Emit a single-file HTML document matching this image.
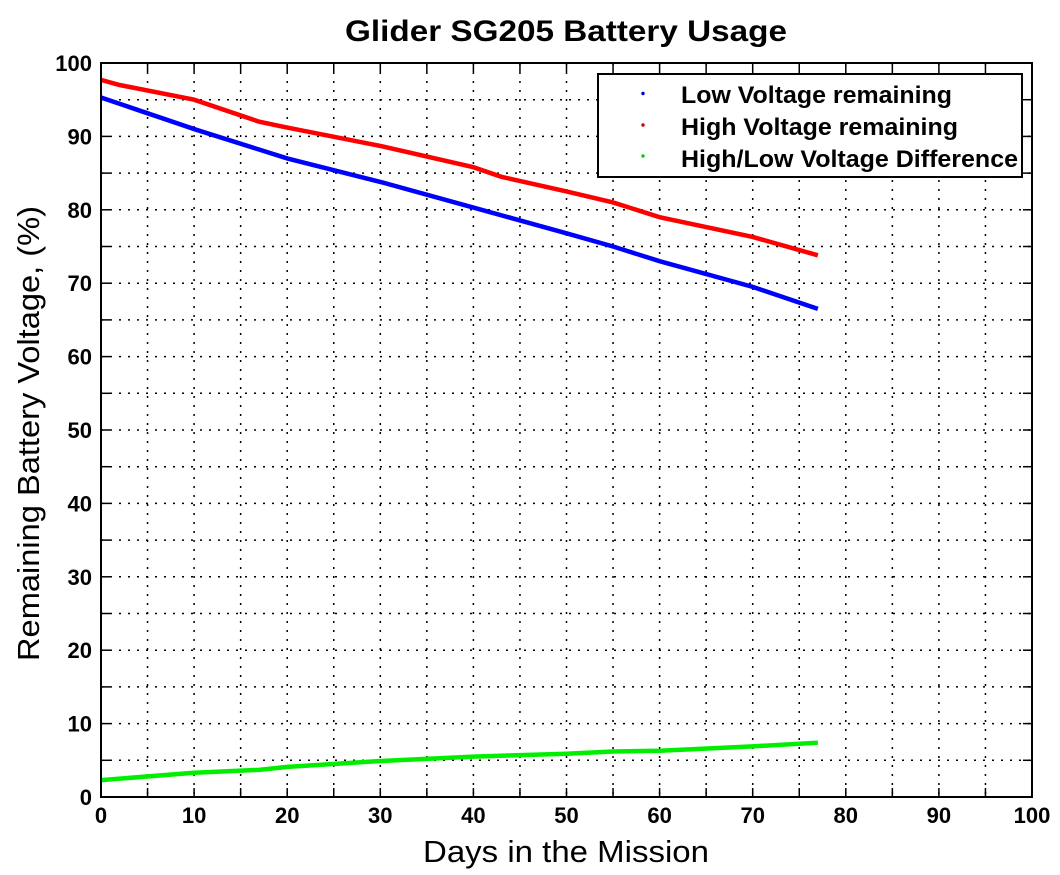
<!DOCTYPE html>
<html><head><style>body{margin:0;background:#fff}svg{display:block}</style></head><body>
<svg width="1060" height="875" xmlns="http://www.w3.org/2000/svg" font-family="Liberation Sans, sans-serif">
<rect width="1060" height="875" fill="#fff"/>
<g id="grid" stroke="#000" stroke-width="1.5" stroke-dasharray="2,7"></g>
<g id="ticks" stroke="#000" stroke-width="1.5"></g>
<g id="labels" font-weight="bold" font-size="22" fill="#000"></g>
<polyline id="lo" fill="none" stroke="#0000ff" stroke-width="4.5"/>
<polyline id="hi" fill="none" stroke="#ff0000" stroke-width="4.5"/>
<polyline id="gr" fill="none" stroke="#00ee00" stroke-width="4.5"/>
<rect x="101" y="63" width="931" height="734" fill="none" stroke="#000" stroke-width="2"/>
<rect x="598" y="74" width="424" height="103" fill="#fff" stroke="#000" stroke-width="2"/>
<circle cx="643" cy="93.5" r="1.7" fill="#00c"/>
<circle cx="643" cy="125" r="1.7" fill="#c00"/>
<circle cx="643" cy="156" r="1.7" fill="#0c0"/>
<g font-weight="bold" font-size="24">
<text x="681" y="103" textLength="271" lengthAdjust="spacingAndGlyphs">Low Voltage remaining</text>
<text x="681" y="135" textLength="277" lengthAdjust="spacingAndGlyphs">High Voltage remaining</text>
<text x="681" y="167" textLength="337" lengthAdjust="spacingAndGlyphs">High/Low Voltage Difference</text>
</g>
<text x="345" y="41" font-weight="bold" font-size="30" textLength="442" lengthAdjust="spacingAndGlyphs">Glider SG205 Battery Usage</text>
<text x="423" y="862" font-size="31" textLength="286" lengthAdjust="spacingAndGlyphs">Days in the Mission</text>
<text transform="translate(39,661) rotate(-90)" font-size="31" textLength="455" lengthAdjust="spacingAndGlyphs">Remaining Battery Voltage, (%)</text>
</svg>
<script>
const X=d=>101+d*9.31, Y=v=>797-v*7.34, ns="http://www.w3.org/2000/svg";
const g=document.getElementById('grid'),t=document.getElementById('ticks'),l=document.getElementById('labels');
function el(p,n,a){const e=document.createElementNS(ns,n);for(const k in a)e.setAttribute(k,a[k]);p.appendChild(e);return e;}
for(let i=5;i<100;i+=5){
 el(g,'line',{x1:X(i),x2:X(i),y1:63,y2:797});
 el(g,'line',{x1:101,x2:1032,y1:Y(i),y2:Y(i)});
}
for(let i=0;i<=100;i+=5){
 el(t,'line',{x1:X(i),x2:X(i),y1:797,y2:788});el(t,'line',{x1:X(i),x2:X(i),y1:63,y2:72});
 el(t,'line',{x1:101,x2:110,y1:Y(i),y2:Y(i)});el(t,'line',{x1:1032,x2:1023,y1:Y(i),y2:Y(i)});
}
for(let i=0;i<=100;i+=10){
 el(l,'text',{x:X(i),y:823,'text-anchor':'middle'}).textContent=i;
 el(l,'text',{x:92,y:Y(i)+8,'text-anchor':'end'}).textContent=i;
}
const pts=a=>a.map(p=>X(p[0])+','+Y(p[1])).join(' ');
document.getElementById('lo').setAttribute('points',pts([[0,95.3],[10,91],[20,87],[30,83.8],[40,80.3],[50,76.8],[55,75],[60,73],[70,69.5],[77,66.5]]));
document.getElementById('hi').setAttribute('points',pts([[0,97.7],[2,97],[10,95],[17,92],[20,91.2],[30,88.7],[40,85.8],[43,84.5],[50,82.5],[55,81],[60,79],[70,76.3],[77,73.8]]));
document.getElementById('gr').setAttribute('points',pts([[0,2.3],[10,3.3],[17,3.7],[20,4.1],[30,4.9],[40,5.5],[50,5.9],[55,6.2],[60,6.3],[70,6.9],[77,7.4]]));
</script>
</body></html>
